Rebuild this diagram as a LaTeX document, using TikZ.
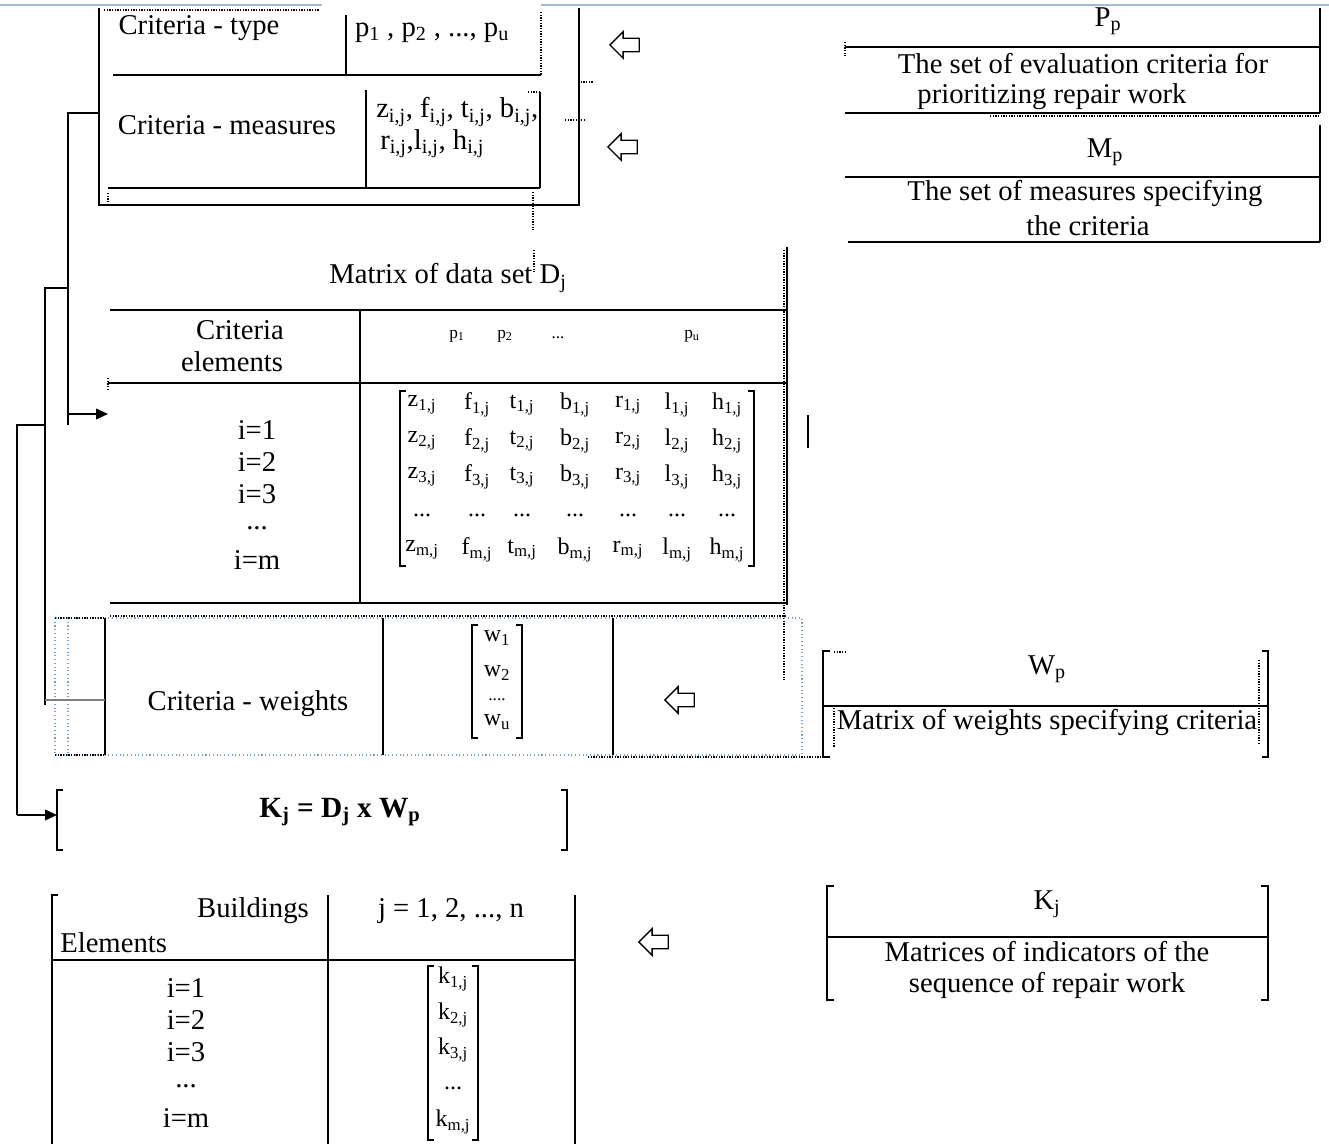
\documentclass[tikz,border=0pt]{standalone}
\usepackage{fontspec}
\setmainfont{Liberation Serif}
\usetikzlibrary{shapes.arrows,arrows.meta}
\definecolor{wordblue}{HTML}{9DB9E0}
\definecolor{selblue}{HTML}{6FA0DC}
\begin{document}
\begin{tikzpicture}[x=0.75pt,y=-0.75pt,
  ln/.style={black,line width=1.3pt},
  thinln/.style={black,line width=0.8pt},
  dots/.style={black,line width=1pt,densely dotted},
  txt/.style={font=\fontsize{21.5}{25}\selectfont,inner sep=0pt},
  small/.style={font=\fontsize{18}{21}\selectfont,inner sep=0pt},
  tiny/.style={font=\fontsize{13}{15}\selectfont,inner sep=0pt},
  hollow/.style={single arrow,draw=black,line width=1pt,shape border rotate=180,
    minimum height=22pt,inner sep=4.6pt,single arrow head extend=4.8pt},
  conn/.style={black,line width=1.3pt},
  tip/.style={-{Triangle[length=9pt,width=8pt]}}]
\useasboundingbox (0,0) rectangle (1329,1144);

% top ruler line
\draw[wordblue,line width=2pt] (0,5) -- (322,5) (541,5) -- (1329,5);

% ---------- top-left table ----------
\draw[ln] (99,8) -- (99,205) -- (579,205) -- (579,8);
\draw[dots] (104,10) -- (320,10);
\draw[ln] (113,75) -- (541,75);
\draw[ln] (346,15) -- (346,75);
\draw[dots,line width=1.6pt] (541,12) -- (541,75);
\draw[ln] (366,90) -- (366,188);
\draw[ln] (108,188) -- (540,188);
\draw[thinln] (540,92) -- (540,188);
\draw[dots] (528,92) -- (540,92);
\draw[dots] (108,193) -- (108,206);
\draw[dots] (533,192) -- (533,230);
\draw[dots] (578,82) -- (594,82);
\draw[dots] (565,120) -- (585,120);
\node[txt] (ctype) at (199,28) {Criteria - type};
\node[txt] (ptype) at (432,33) {p\textsubscript{1} , p\textsubscript{2} , ..., p\textsubscript{u}};
\node[txt] (cmeas) at (227,125) {Criteria - measures};
\node[txt,anchor=west] (zmeas) at (376,112) {z\textsubscript{i,j}, f\textsubscript{i,j}, t\textsubscript{i,j}, b\textsubscript{i,j},};
\node[txt,anchor=west] (rmeas) at (380,144) {r\textsubscript{i,j},l\textsubscript{i,j}, h\textsubscript{i,j}};
\node[hollow] (ha1) at (628,45) {};
\node[hollow] (ha2) at (626,147) {};

% ---------- P_p box ----------
\node[txt] (pp) at (1108,21) {P\textsubscript{p}};
\draw[ln] (845,47) -- (1320,47);
\draw[ln] (1320,8) -- (1320,113);
\draw[ln] (845,113) -- (1320,113);
\draw[dots] (845,42) -- (845,56);
\draw[dots] (990,116) -- (1320,116);
\node[txt] (pptext1) at (1083,64) {The set of evaluation criteria for};
\node[txt] (pptext2) at (1052,97) {prioritizing repair work};

% ---------- M_p box ----------
\node[txt] (mp) at (1105,152) {M\textsubscript{p}};
\draw[ln] (845,177) -- (1320,177);
\draw[ln] (1320,125) -- (1320,242);
\draw[ln] (848,242) -- (1320,242);
\node[txt] (mptext1) at (1085,194) {The set of measures specifying};
\node[txt] (mptext2) at (1088,226) {the criteria};

% ---------- matrix of data set ----------
\node[txt] (dtitle) at (448,278) {Matrix of data set D\textsubscript{j}};
\draw[dots] (534,250) -- (534,272);
\draw[ln] (787,247) -- (787,605);
\draw[dots] (784,250) -- (784,680);
\draw[ln] (110,310) -- (787,310);
\draw[ln] (360,310) -- (360,603);
\draw[ln] (108,383) -- (787,383);
\draw[dots] (108,378) -- (108,390);
\draw[ln] (110,603) -- (787,603);
\draw[ln] (808,415) -- (808,448);
\node[txt] (crit) at (240,330) {Criteria};
\node[txt] (elem) at (232,362) {elements};
\node[tiny] (hp1) at (457,336) {p\textsubscript{1}};
\node[tiny] (hp2) at (505,336) {p\textsubscript{2}};
\node[tiny] (hpd) at (558,338) {...};
\node[tiny] (hpu) at (692,336) {p\textsubscript{u}};
\node[txt] (di1) at (257,430) {i=1};
\node[txt] (di2) at (257,462) {i=2};
\node[txt] (di3) at (257,494) {i=3};
\node[txt] (did) at (257,528) {...};
\node[txt] (dim) at (257,560) {i=m};
% bracket
\draw[thinln] (406,391) -- (400,391) -- (400,566) -- (406,566);
\draw[thinln] (748,391) -- (754,391) -- (754,566) -- (748,566);
\foreach \c/\xx in {z/422,f/477,t/522,b/575,r/628,l/677,h/727}{
  \node[small] (m\c1) at (\xx,405) {\c\textsubscript{1,j}};
  \node[small] (m\c2) at (\xx,441) {\c\textsubscript{2,j}};
  \node[small] (m\c3) at (\xx,477) {\c\textsubscript{3,j}};
  \node[small] (m\c d) at (\xx,515) {...};
  \node[small] (m\c m) at (\xx,550) {\c\textsubscript{m,j}};
}

% ---------- criteria weights row ----------
\draw[selblue,line width=0.8pt,dotted] (55,618) rectangle (802,755);
\draw[selblue,line width=0.8pt,dotted] (68,618) -- (68,755);
\draw[dots] (110,616) -- (785,616);
\draw[dots] (55,618) -- (105,618);
\draw[dots] (55,755) -- (105,755);
\draw[ln] (105,618) -- (105,755);
\draw[ln] (383,618) -- (383,755);
\draw[ln] (613,618) -- (613,755);
\draw[dots] (588,757) -- (830,757);
\node[txt] (cw) at (248,704) {Criteria - weights};
\draw[thinln] (478,625) -- (472,625) -- (472,738) -- (478,738);
\draw[thinln] (516,625) -- (522,625) -- (522,738) -- (516,738);
\node[small] (w1) at (497,638) {w\textsubscript{1}};
\node[small] (w2) at (497,673) {w\textsubscript{2}};
\node[tiny] (wd) at (497,700) {....};
\node[small] (wu) at (497,722) {w\textsubscript{u}};
\node[hollow] (ha3) at (683,700) {};

% ---------- W_p box ----------
\draw[ln] (830,651) -- (823,651) -- (823,757) -- (830,757);
\draw[ln] (1262,651) -- (1268,651) -- (1268,757) -- (1262,757);
\draw[ln] (823,706) -- (1268,706);
\draw[dots] (834,652) -- (846,652);
\draw[dots] (834,708) -- (834,748);
\draw[dots] (1259,660) -- (1259,745);
\node[txt] (wp) at (1047,669) {W\textsubscript{p}};
\node[txt] (wptext) at (1047,723) {Matrix of weights specifying criteria};

% ---------- formula ----------
\draw[ln] (63,790) -- (57,790) -- (57,850) -- (63,850);
\draw[ln] (561,790) -- (567,790) -- (567,850) -- (561,850);
\node[txt,font=\fontsize{22}{26}\selectfont\bfseries] (formula) at (340,812)
  {K\textsubscript{j} = D\textsubscript{j} x W\textsubscript{p}};

% ---------- K_j box ----------
\draw[ln] (834,886) -- (827,886) -- (827,1000) -- (834,1000);
\draw[ln] (1261,886) -- (1268,886) -- (1268,1000) -- (1261,1000);
\draw[ln] (827,937) -- (1268,937);
\node[txt] (kj) at (1047,904) {K\textsubscript{j}};
\node[txt] (kjtext1) at (1047,952) {Matrices of indicators of the};
\node[txt] (kjtext2) at (1047,985) {sequence of repair work};
\node[hollow] (ha4) at (657,942) {};

% ---------- bottom table ----------
\draw[ln] (58,895) -- (52,895) -- (52,1144);
\draw[ln] (328,895) -- (328,1144);
\draw[ln] (575,895) -- (575,1144);
\draw[ln] (52,960) -- (575,960);
\node[txt,anchor=east] (bld) at (309,911) {Buildings};
\node[txt,anchor=west] (els) at (60,943) {Elements};
\node[txt] (jrange) at (451,911) {j = 1, 2, ..., n};
\node[txt] (bi1) at (186,988) {i=1};
\node[txt] (bi2) at (186,1020) {i=2};
\node[txt] (bi3) at (186,1052) {i=3};
\node[txt] (bid) at (186,1086) {...};
\node[txt] (bim) at (186,1118) {i=m};
\draw[thinln] (434,966) -- (428,966) -- (428,1140) -- (434,1140);
\draw[thinln] (472,966) -- (478,966) -- (478,1140) -- (472,1140);
\node[small] (k1) at (453,979) {k\textsubscript{1,j}};
\node[small] (k2) at (453,1015) {k\textsubscript{2,j}};
\node[small] (k3) at (453,1050) {k\textsubscript{3,j}};
\node[small] (kd) at (453,1088) {...};
\node[small] (km) at (453,1122) {k\textsubscript{m,j}};

% ---------- left connectors ----------
\coordinate (frameW) at (99,113);
\coordinate (b1) at (68,113);
\coordinate (b1end) at (68,425);
\coordinate (rowin) at (108,414);
\coordinate (b2a) at (68,288);
\coordinate (b2b) at (45,288);
\coordinate (b2c) at (45,705);
\coordinate (b3a) at (45,425);
\coordinate (b3b) at (17,425);
\coordinate (b3c) at (17,815);
\coordinate (fin) at (57,815);
\coordinate (wrowL) at (105,700);
\coordinate (wrowC) at (45,700);
\draw[conn] (frameW) -- (b1) -- (b1end);
\draw[conn,tip] (b1 |- rowin) -- (rowin);
\draw[conn] (b2a) -- (b2b) -- (b2c);
\draw[gray,line width=2.2pt] (wrowC) -- (wrowL);
\draw[conn] (b3a) -- (b3b) -- (b3c);
\draw[conn,tip] (b3c) -- (fin);
\end{tikzpicture}
\end{document}
